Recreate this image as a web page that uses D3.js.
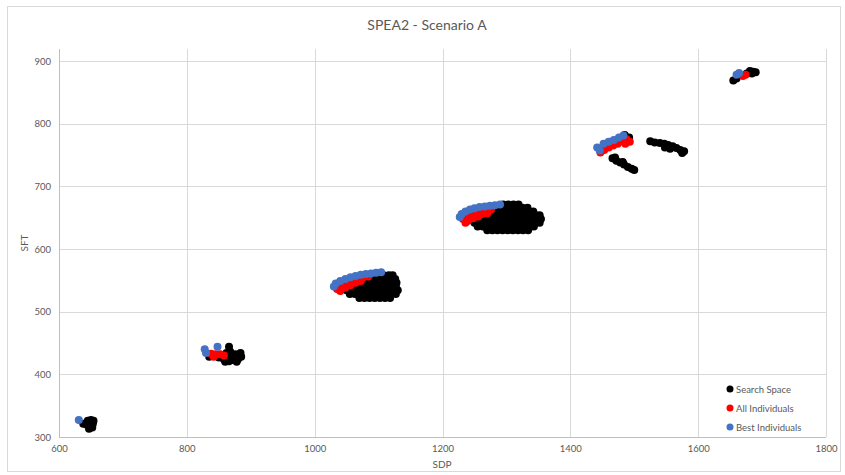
<!DOCTYPE html>
<html>
<head>
<meta charset="utf-8">
<script src="https://cdn.jsdelivr.net/npm/d3@7"></script>
<style>
  html, body { margin: 0; padding: 0; background: #fff; }
  svg { display: block; font-family: Lato, "Open Sans", sans-serif; }
</style>
</head>
<body>
<svg id="chart" width="845" height="475"></svg>
<script>
// Axis ticks
const xTicks = [600, 800, 1000, 1200, 1400, 1600, 1800];
const yTicks = [300, 400, 500, 600, 700, 800, 900];

// Series: [SDP, SFT]
const searchSpace = [
  // group near 640
  [638,321],[643,320],[645,326],[650,327],[654,326],[648,322],[653,321],[650,317],[647,313],[652,315],
  // group near 860
  [835,428],[850,427],[858,424],[864,428],[870,430],[876,432],[882,430],[885,428],[880,424],[872,423],
  [866,421],[860,420],[878,420],[884,434],[868,436],[862,434],[866,444],[874,426],[856,429],
  // group near 1090
  [1070,522],[1078,522],[1086,522],[1094,522],[1102,522],[1110,522],[1118,522],
  [1055,528],[1063,528],[1071,528],[1079,528],[1087,528],[1095,528],[1103,528],[1111,528],[1119,528],[1127,528],
  [1050,534],[1058,534],[1066,534],[1074,534],[1082,534],[1090,534],[1098,534],[1106,534],[1114,534],[1122,534],[1130,534],
  [1055,540],[1063,540],[1071,540],[1079,540],[1087,540],[1095,540],[1103,540],[1111,540],[1119,540],[1127,540],
  [1065,546],[1073,546],[1081,546],[1089,546],[1097,546],[1105,546],[1113,546],[1121,546],[1128,546],
  [1080,552],[1088,552],[1096,552],[1104,552],[1112,552],[1120,552],[1126,552],
  [1100,558],[1108,558],[1116,558],[1122,558],
  // group near 1300
  [1270,630],[1278,630],[1286,630],[1294,630],[1302,630],[1310,630],[1318,630],[1326,630],[1334,630],
  [1255,636],[1263,636],[1271,636],[1279,636],[1287,636],[1295,636],[1303,636],[1311,636],[1319,636],[1327,636],[1335,636],[1343,636],
  [1250,642],[1258,642],[1266,642],[1274,642],[1282,642],[1290,642],[1298,642],[1306,642],[1314,642],[1322,642],[1330,642],[1338,642],[1346,642],[1352,642],
  [1252,648],[1260,648],[1268,648],[1276,648],[1284,648],[1292,648],[1300,648],[1308,648],[1316,648],[1324,648],[1332,648],[1340,648],[1348,648],[1354,648],
  [1258,654],[1266,654],[1274,654],[1282,654],[1290,654],[1298,654],[1306,654],[1314,654],[1322,654],[1330,654],[1338,654],[1346,654],[1352,654],
  [1270,660],[1278,660],[1286,660],[1294,660],[1302,660],[1310,660],[1318,660],[1326,660],[1334,660],[1342,660],
  [1285,666],[1293,666],[1301,666],[1309,666],[1317,666],[1325,666],[1333,666],
  [1295,671],[1303,671],[1311,671],[1319,671],
  // group near 1470
  [1492,778],[1485,782],[1466,745],[1472,741],[1478,738],[1484,735],[1490,731],[1496,728],[1500,726],[1470,746],[1482,739],
  // group near 1550
  [1525,772],[1532,770],[1540,769],[1547,768],[1553,766],[1560,764],[1566,761],[1572,758],[1578,756],[1556,760],[1548,762],[1575,753],
  // group near 1670
  [1655,869],[1660,872],[1676,880],[1681,884],[1686,883],[1690,882],[1684,880]
];

const allIndividuals = [
  [838,433],[845,432],[852,432],[858,430],[842,428],
  [1035,536],[1040,540],[1046,545],[1052,548],[1060,551],[1068,553],[1076,555],[1084,556],
  [1040,533],[1048,538],[1056,542],[1064,546],[1072,549],
  [1232,648],[1238,652],[1245,656],[1252,659],[1260,661],[1268,662],[1276,663],
  [1240,645],[1248,649],[1256,652],[1236,642],[1262,656],[1270,657],
  [1447,754],[1453,758],[1460,762],[1467,765],[1474,768],[1481,772],[1488,775],[1486,768],[1493,771],
  [1670,876],[1674,878]
];

const bestIndividuals = [
  [631,327],
  [828,440],[830,434],[848,444],
  [1030,540],[1033,545],[1040,549],[1048,552],[1056,555],[1064,557],[1072,559],[1080,560],[1088,561],[1096,562],[1104,563],
  [1227,651],[1230,656],[1236,660],[1243,663],[1250,665],[1258,667],[1266,668],[1274,669],[1282,670],[1290,671],
  [1442,762],[1446,757],[1452,768],[1460,771],[1468,774],[1476,778],[1483,781],
  [1660,878],[1664,881]
];

const seriesNames = ["Search Space", "All Individuals", "Best Individuals"];
const seriesColors = ["#000000", "#ff0000", "#4472c4"];
const seriesData = [searchSpace, allIndividuals, bestIndividuals];

const svg = d3.select("#chart");
const W = 845, H = 475;

// chart frame
svg.append("rect")
  .attr("x", 7.5).attr("y", 6.5).attr("width", W - 12).attr("height", H - 10)
  .attr("fill", "#fff").attr("stroke", "#d9d9d9");

const plot = { left: 59, right: 826, top: 49, bottom: 437 };

const x = d3.scaleLinear().domain([600, 1800]).range([plot.left, plot.right]);
const y = d3.scaleLinear().domain([300, 900]).range([plot.bottom, 61]);

// gridlines
svg.append("g")
  .selectAll("line")
  .data(yTicks.slice(1))
  .join("line")
  .attr("x1", plot.left).attr("x2", plot.right)
  .attr("y1", d => Math.round(y(d)) + 0.5).attr("y2", d => Math.round(y(d)) + 0.5)
  .attr("stroke", "#d9d9d9");

svg.append("g")
  .selectAll("line")
  .data(xTicks.slice(1))
  .join("line")
  .attr("x1", d => Math.round(x(d)) + 0.5).attr("x2", d => Math.round(x(d)) + 0.5)
  .attr("y1", plot.top).attr("y2", plot.bottom)
  .attr("stroke", "#d9d9d9");

// axes lines
svg.append("line")
  .attr("x1", plot.left + 0.5).attr("x2", plot.left + 0.5)
  .attr("y1", plot.top).attr("y2", plot.bottom)
  .attr("stroke", "#bfbfbf");
svg.append("line")
  .attr("x1", plot.left).attr("x2", plot.right)
  .attr("y1", plot.bottom + 0.5).attr("y2", plot.bottom + 0.5)
  .attr("stroke", "#bfbfbf");

// tick labels
const fmt = d3.format("d");
const xAxis = d3.axisBottom(x).tickValues(xTicks).tickFormat(fmt).tickSize(0).tickPadding(8);
const gx = svg.append("g").attr("transform", `translate(0,${plot.bottom})`).call(xAxis);
gx.select(".domain").remove();
gx.selectAll("text").attr("fill", "#595959").attr("font-size", 9.5)
  .style("font-family", "Lato, 'Open Sans', sans-serif");

const yAxis = d3.axisLeft(y).tickValues(yTicks).tickFormat(fmt).tickSize(0).tickPadding(8);
const gy = svg.append("g").attr("transform", `translate(${plot.left},0)`).call(yAxis);
gy.select(".domain").remove();
gy.selectAll("text").attr("fill", "#595959").attr("font-size", 9.5)
  .style("font-family", "Lato, 'Open Sans', sans-serif");

// titles
svg.append("text")
  .attr("x", 427).attr("y", 30)
  .attr("text-anchor", "middle")
  .attr("font-size", 14).attr("fill", "#595959")
  .text("SPEA2 - Scenario A");

svg.append("text")
  .attr("x", 442).attr("y", 468)
  .attr("text-anchor", "middle")
  .attr("font-size", 10).attr("fill", "#595959")
  .text("SDP");

svg.append("text")
  .attr("transform", "translate(28,243) rotate(-90)")
  .attr("text-anchor", "middle")
  .attr("font-size", 10).attr("fill", "#595959")
  .text("SFT");

// markers
seriesData.forEach((data, i) => {
  svg.append("g")
    .selectAll("circle")
    .data(data)
    .join("circle")
    .attr("cx", d => x(d[0]))
    .attr("cy", d => y(d[1]))
    .attr("r", 4)
    .attr("fill", seriesColors[i]);
});

// legend
const legend = svg.append("g").attr("transform", "translate(730,389)");
seriesNames.forEach((name, i) => {
  const g = legend.append("g").attr("transform", `translate(0,${i * 19})`);
  g.append("circle").attr("r", 3.5).attr("fill", seriesColors[i]);
  g.append("text").attr("x", 6).attr("y", 3.5)
    .attr("font-size", 9.5).attr("fill", "#595959").text(name);
});
</script>
</body>
</html>
